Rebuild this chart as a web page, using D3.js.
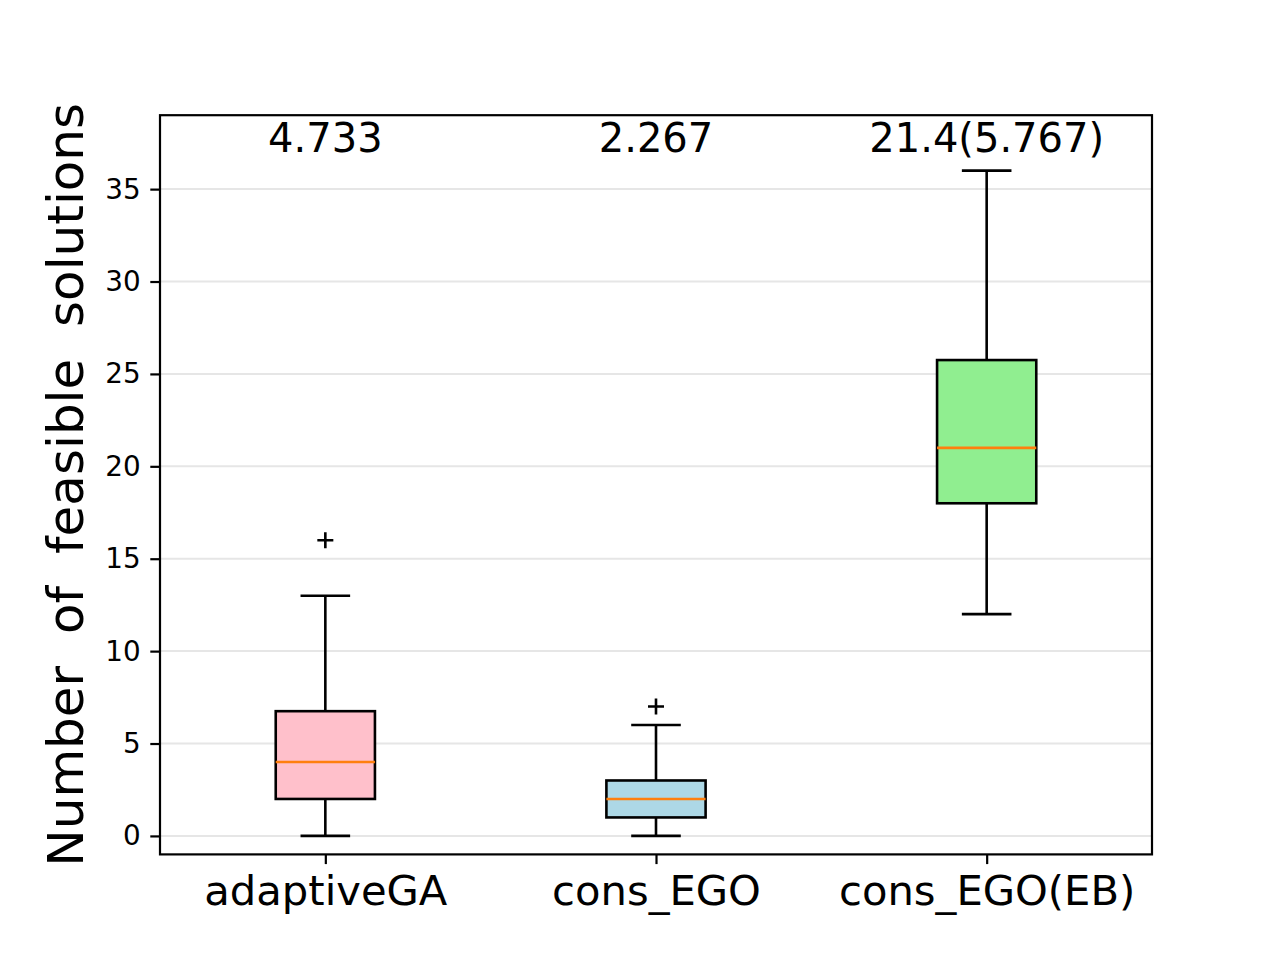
<!DOCTYPE html>
<html>
<head>
<meta charset="utf-8">
<script src="https://cdn.jsdelivr.net/npm/d3@7"></script>
<style>
  body { margin: 0; background: #fff; }
  text { font-family: "DejaVu Sans", sans-serif; fill: #000; }
</style>
</head>
<body>
<div id="chart"></div>
<script>
// data
const categories = ["adaptiveGA", "cons_EGO", "cons_EGO(EB)"];
const q1 = [2, 1, 18];
const medians = [4, 2, 21];
const q3 = [6.75, 3, 25.75];
const whiskerLow = [0, 0, 12];
const whiskerHigh = [13, 6, 36];
const outliers = [[16], [7], []];
const annotations = ["4.733", "2.267", "21.4(5.767)"];
const yTicks = [0, 5, 10, 15, 20, 25, 30, 35];
const boxColors = ["pink", "lightblue", "lightgreen"];

const W = 1280, H = 960;
const margin = { top: 115.2, right: 128, bottom: 105.6, left: 160 };

const svg = d3.select("#chart").append("svg")
    .attr("width", W)
    .attr("height", H);

const x = d3.scaleLinear().domain([0.5, 3.5]).range([margin.left, W - margin.right]);
const y = d3.scaleLinear().domain([-1, 39]).range([H - margin.bottom, margin.top]);

const boxW = x(1.3) - x(1);      // box is 0.3 wide
const capW = x(1.075) - x(1);    // half width of cap

// grid lines
svg.append("g").selectAll("line")
    .data(yTicks)
    .enter().append("line")
    .attr("x1", x(0.5)).attr("x2", x(3.5))
    .attr("y1", d => y(d)).attr("y2", d => y(d))
    .attr("stroke", "#e6e6e6")
    .attr("stroke-width", 2);

const data = categories.map((c, i) => ({
    name: c, i: i + 1, q1: q1[i], med: medians[i], q3: q3[i],
    lo: whiskerLow[i], hi: whiskerHigh[i], out: outliers[i], color: boxColors[i]
}));

const g = svg.append("g").selectAll("g")
    .data(data)
    .enter().append("g");

// whiskers
g.append("line")
    .attr("x1", d => x(d.i)).attr("x2", d => x(d.i))
    .attr("y1", d => y(d.q3)).attr("y2", d => y(d.hi))
    .attr("stroke", "#000").attr("stroke-width", 2.6);
g.append("line")
    .attr("x1", d => x(d.i)).attr("x2", d => x(d.i))
    .attr("y1", d => y(d.q1)).attr("y2", d => y(d.lo))
    .attr("stroke", "#000").attr("stroke-width", 2.6);

// caps
[d => d.hi, d => d.lo].forEach(f => {
    g.append("line")
        .attr("x1", d => x(d.i) - capW).attr("x2", d => x(d.i) + capW)
        .attr("y1", d => y(f(d))).attr("y2", d => y(f(d)))
        .attr("stroke", "#000").attr("stroke-width", 2.6);
});

// boxes
g.append("rect")
    .attr("x", d => x(d.i) - boxW / 2)
    .attr("width", boxW)
    .attr("y", d => y(d.q3))
    .attr("height", d => y(d.q1) - y(d.q3))
    .attr("fill", d => d.color)
    .attr("stroke", "#000")
    .attr("stroke-width", 2.6);

// medians
g.append("line")
    .attr("x1", d => x(d.i) - boxW / 2).attr("x2", d => x(d.i) + boxW / 2)
    .attr("y1", d => y(d.med)).attr("y2", d => y(d.med))
    .attr("stroke", "#ff7f0e").attr("stroke-width", 2.6);

// outliers as '+'
g.selectAll("path.flier")
    .data(d => d.out.map(v => ({ i: d.i, v: v })))
    .enter().append("path")
    .attr("class", "flier")
    .attr("d", d => {
        const cx = x(d.i), cy = y(d.v), s = 8;
        return `M${cx - s},${cy}H${cx + s}M${cx},${cy - s}V${cy + s}`;
    })
    .attr("stroke", "#000").attr("stroke-width", 2.6).attr("fill", "none");

// annotations above each box
g.append("text")
    .attr("x", d => x(d.i))
    .attr("y", y(37))
    .attr("text-anchor", "middle")
    .style("font-size", "40px")
    .text((d, i) => annotations[i]);

// axes
const yAxis = svg.append("g")
    .attr("transform", `translate(${margin.left},0)`)
    .call(d3.axisLeft(y).tickValues(yTicks).tickSize(9.7).tickPadding(9.7));
yAxis.select(".domain").remove();
yAxis.selectAll("line").attr("stroke-width", 2.2);
yAxis.selectAll("text").style("font-size", "27.8px").attr("fill", "#000");

const xAxis = svg.append("g")
    .attr("transform", `translate(0,${H - margin.bottom})`)
    .call(d3.axisBottom(x).tickValues([1, 2, 3]).tickFormat((d, i) => categories[i]).tickSize(9.7));
xAxis.select(".domain").remove();
xAxis.selectAll("line").attr("stroke-width", 2.2);
xAxis.selectAll("text")
    .attr("y", 51).attr("dy", 0)
    .style("font-size", "41.7px").attr("fill", "#000");

// frame
svg.append("rect")
    .attr("x", margin.left).attr("y", margin.top)
    .attr("width", W - margin.left - margin.right)
    .attr("height", H - margin.top - margin.bottom)
    .attr("fill", "none")
    .attr("stroke", "#000")
    .attr("stroke-width", 2.2);

// y label
svg.append("text")
    .attr("transform", `translate(83,${(margin.top + H - margin.bottom) / 2}) rotate(-90)`)
    .attr("text-anchor", "middle")
    .style("font-size", "50px")
    .style("white-space", "pre")
    .attr("xml:space", "preserve")
    .text("Number  of  feasible  solutions");
</script>
</body>
</html>
